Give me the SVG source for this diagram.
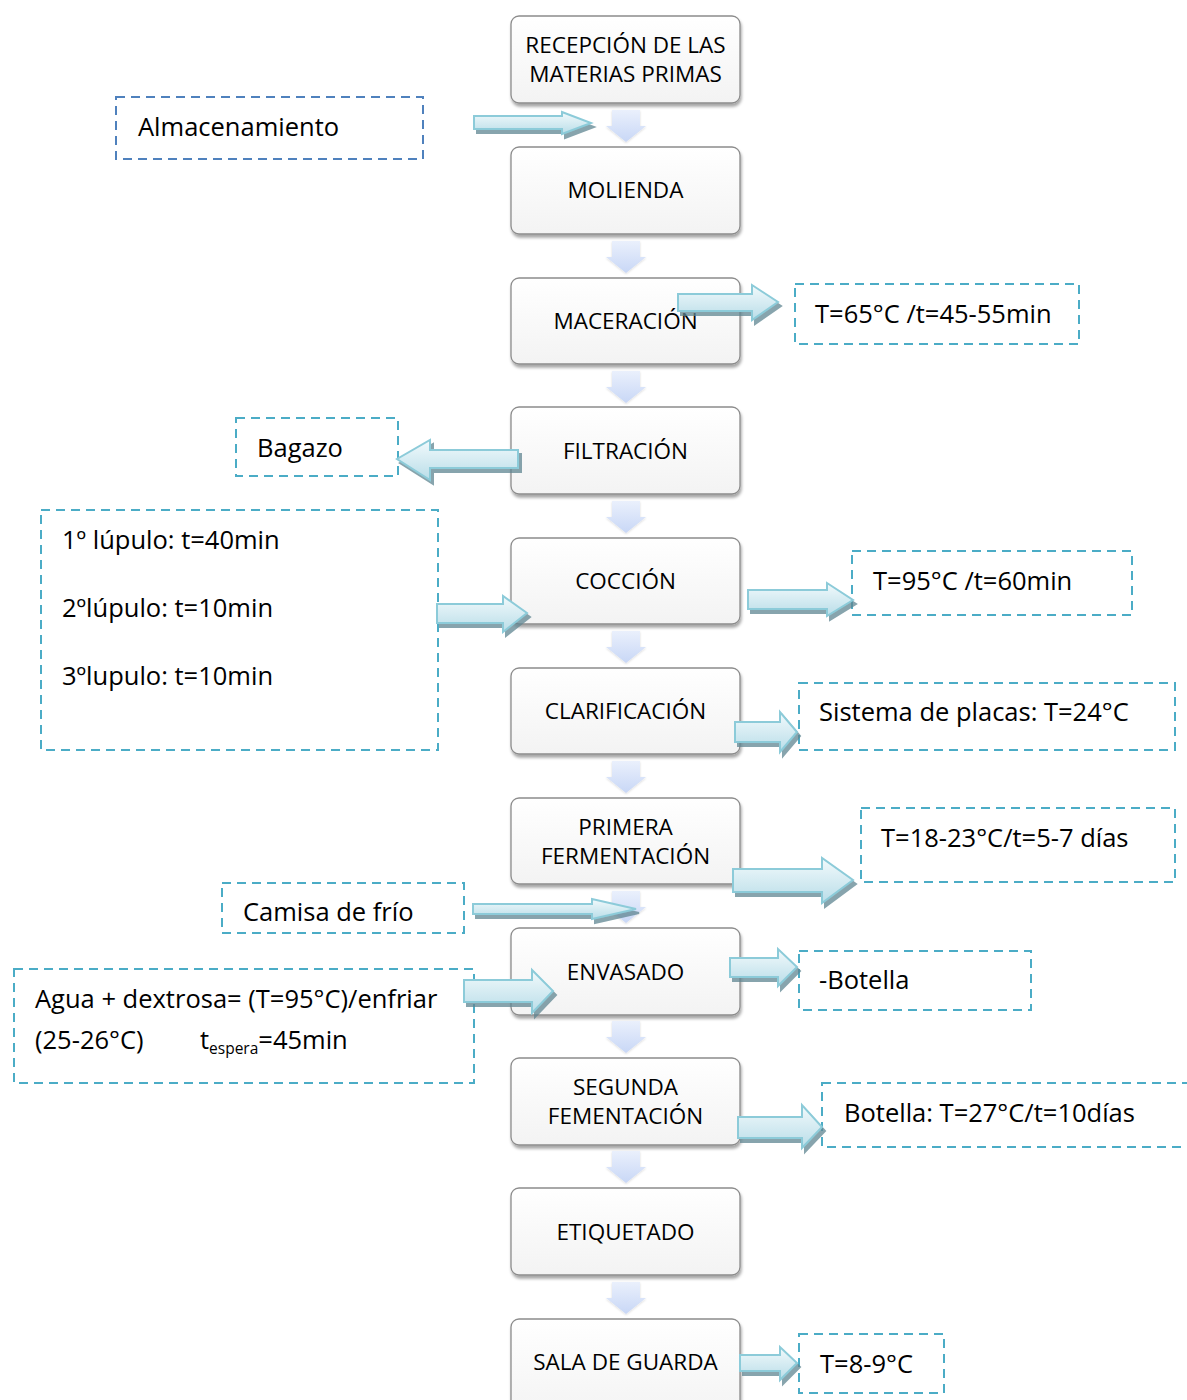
<svg xmlns="http://www.w3.org/2000/svg" width="1187" height="1400" viewBox="0 0 1187 1400">
<defs>
<linearGradient id="boxg" x1="0" y1="0" x2="0" y2="1"><stop offset="0" stop-color="#ffffff"/><stop offset="1" stop-color="#f3f3f3"/></linearGradient>
<linearGradient id="downg" x1="0" y1="0" x2="0" y2="1"><stop offset="0" stop-color="#eaf0fc"/><stop offset="1" stop-color="#c8d7f6"/></linearGradient>
<linearGradient id="blk" x1="0" y1="0" x2="0" y2="1"><stop offset="0" stop-color="#f2fafc"/><stop offset="1" stop-color="#b9dde8"/></linearGradient>
<filter id="sh" x="-10%" y="-10%" width="130%" height="140%"><feDropShadow dx="1" dy="3" stdDeviation="1.5" flood-color="#000" flood-opacity="0.35"/></filter>
<filter id="ash" x="-10%" y="-20%" width="130%" height="160%"><feDropShadow dx="3" dy="4" stdDeviation="0.6" flood-color="#5f8591" flood-opacity="0.75"/></filter>
<filter id="dsh" x="-20%" y="-20%" width="140%" height="150%"><feDropShadow dx="0" dy="1" stdDeviation="1" flood-color="#000" flood-opacity="0.15"/></filter>
</defs>
<style>
.box{fill:url(#boxg);stroke:#8c8c8c;stroke-width:1.3;filter:url(#sh)}
.bt{font-family:"Open Sans","Liberation Sans",sans-serif;font-size:22.5px;fill:#000;text-anchor:middle}
.dbox{fill:none;stroke:#4bacc6;stroke-width:2;stroke-dasharray:9 6}
.dbox.blue{stroke:#4f81bd}
.dt{font-family:"Open Sans","Liberation Sans",sans-serif;font-size:25.5px;fill:#000}
.arr{fill:url(#blk);stroke:#8ccbd9;stroke-width:2;stroke-linejoin:miter;filter:url(#ash)}
.down{fill:url(#downg);filter:url(#dsh)}
</style>
<rect width="1187" height="1400" fill="#fff"/>

<g id="notes">
<g id="n-almacenamiento"><rect class="dbox blue" x="116" y="97" width="307" height="62"/><text class="dt" x="138" y="136">Almacenamiento</text></g>
<g id="n-maceracion"><rect class="dbox" x="795" y="284" width="284" height="60"/><text class="dt" x="815" y="323">T=65°C /t=45-55min</text></g>
<g id="n-bagazo"><rect class="dbox" x="236" y="418" width="162" height="58"/><text class="dt" x="257" y="457">Bagazo</text></g>
<g id="n-lupulo"><rect class="dbox" x="41" y="510" width="397" height="240"/><text class="dt" x="62" y="549">1º lúpulo: t=40min</text><text class="dt" x="62" y="617">2ºlúpulo: t=10min</text><text class="dt" x="62" y="685">3ºlupulo: t=10min</text></g>
<g id="n-coccion"><rect class="dbox" x="852" y="551" width="280" height="64"/><text class="dt" x="873" y="590">T=95°C /t=60min</text></g>
<g id="n-placas"><rect class="dbox" x="799" y="683" width="376" height="67"/><text class="dt" x="819" y="721">Sistema de placas: T=24°C</text></g>
<g id="n-ferm1"><rect class="dbox" x="861" y="808" width="314" height="74"/><text class="dt" x="881" y="847">T=18-23°C/t=5-7 días</text></g>
<g id="n-camisa"><rect class="dbox" x="222" y="883" width="242" height="50"/><text class="dt" x="243" y="921">Camisa de frío</text></g>
<g id="n-botella"><rect class="dbox" x="799" y="951" width="232" height="59"/><text class="dt" x="819" y="989">-Botella</text></g>
<g id="n-agua"><rect class="dbox" x="14" y="969" width="460" height="114"/><text class="dt" x="35" y="1008">Agua + dextrosa= (T=95°C)/enfriar</text><text class="dt" x="35" y="1049">(25-26°C)<tspan x="200">t</tspan><tspan font-size="15.5px" dy="5">espera</tspan><tspan dy="-5">=45min</tspan></text></g>
<g id="n-ferm2"><rect class="dbox" x="822" y="1083" width="380" height="64"/><text class="dt" x="844" y="1122">Botella: T=27°C/t=10días</text></g>
<g id="n-guarda"><rect class="dbox" x="799" y="1334" width="145" height="59"/><text class="dt" x="820" y="1373">T=8-9°C</text></g>
</g>

<g id="steps">
<g id="s1"><rect class="box" x="511" y="16" width="229" height="87" rx="8"/><text class="bt" x="625.5" y="53">RECEPCIÓN DE LAS</text><text class="bt" x="625.5" y="82">MATERIAS PRIMAS</text></g>
<g id="s2"><rect class="box" x="511" y="147" width="229" height="87" rx="8"/><text class="bt" x="625.5" y="198">MOLIENDA</text></g>
<g id="s3"><rect class="box" x="511" y="278" width="229" height="86" rx="8"/><text class="bt" x="625.5" y="329">MACERACIÓN</text></g>
<g id="s4"><rect class="box" x="511" y="407" width="229" height="87" rx="8"/><text class="bt" x="625.5" y="459">FILTRACIÓN</text></g>
<g id="s5"><rect class="box" x="511" y="538" width="229" height="86" rx="8"/><text class="bt" x="625.5" y="589">COCCIÓN</text></g>
<g id="s6"><rect class="box" x="511" y="668" width="229" height="86" rx="8"/><text class="bt" x="625.5" y="719">CLARIFICACIÓN</text></g>
<g id="s7"><rect class="box" x="511" y="798" width="229" height="86" rx="8"/><text class="bt" x="625.5" y="835">PRIMERA</text><text class="bt" x="625.5" y="864">FERMENTACIÓN</text></g>
<g id="s8"><rect class="box" x="511" y="928" width="229" height="87" rx="8"/><text class="bt" x="625.5" y="980">ENVASADO</text></g>
<g id="s9"><rect class="box" x="511" y="1058" width="229" height="87" rx="8"/><text class="bt" x="625.5" y="1095">SEGUNDA</text><text class="bt" x="625.5" y="1124">FEMENTACIÓN</text></g>
<g id="s10"><rect class="box" x="511" y="1188" width="229" height="87" rx="8"/><text class="bt" x="625.5" y="1240">ETIQUETADO</text></g>
<g id="s11"><rect class="box" x="511" y="1319" width="229" height="100" rx="8"/><text class="bt" x="625.5" y="1370">SALA DE GUARDA</text></g>
</g>

<g id="connectors">
<g id="down-arrows">
<path class="down" d="M612,110 H640 V126 H646 L626,142 L606,126 H612 Z"/>
<path class="down" d="M612,241 H640 V257 H646 L626,273 L606,257 H612 Z"/>
<path class="down" d="M612,371 H640 V387 H646 L626,403 L606,387 H612 Z"/>
<path class="down" d="M612,501 H640 V517 H646 L626,533 L606,517 H612 Z"/>
<path class="down" d="M612,631 H640 V647 H646 L626,663 L606,647 H612 Z"/>
<path class="down" d="M612,761 H640 V777 H646 L626,793 L606,777 H612 Z"/>
<path class="down" d="M612,891 H640 V907 H646 L626,923 L606,907 H612 Z"/>
<path class="down" d="M612,1021 H640 V1037 H646 L626,1053 L606,1037 H612 Z"/>
<path class="down" d="M612,1151 H640 V1167 H646 L626,1183 L606,1167 H612 Z"/>
<path class="down" d="M612,1282 H640 V1298 H646 L626,1314 L606,1298 H612 Z"/>
</g>
<g id="side-arrows">
<path class="arr" d="M474,116 H562 V112 L591,123 L562,134 V129 H474 Z"/>
<path class="arr" d="M678,294 H752 V285 L778,302 L752,320 V311 H678 Z"/>
<path class="arr" d="M518,450 H430 V440 L397,459 L430,480 V468 H518 Z"/>
<path class="arr" d="M437,604 H503 V596 L527,613 L503,632 V623 H437 Z"/>
<path class="arr" d="M748,590 H827 V583 L853,600 L827,616 V609 H748 Z"/>
<path class="arr" d="M735,722 H780 V712 L797,732 L780,752 V742 H735 Z"/>
<path class="arr" d="M733,869 H822 V858 L853,880 L822,903 V892 H733 Z"/>
<path class="arr" d="M473,904 H592 V899 L636,909 L592,919 V914 H473 Z"/>
<path class="arr" d="M464,980 H532 V970 L553,991 L532,1013 V1002 H464 Z"/>
<path class="arr" d="M730,958 H778 V949 L797,967 L778,986 V977 H730 Z"/>
<path class="arr" d="M738,1117 H802 V1105 L822,1127 L802,1148 V1138 H738 Z"/>
<path class="arr" d="M740,1355 H780 V1347 L797,1363 L780,1380 V1371 H740 Z"/>
</g>
</g>
</svg>
